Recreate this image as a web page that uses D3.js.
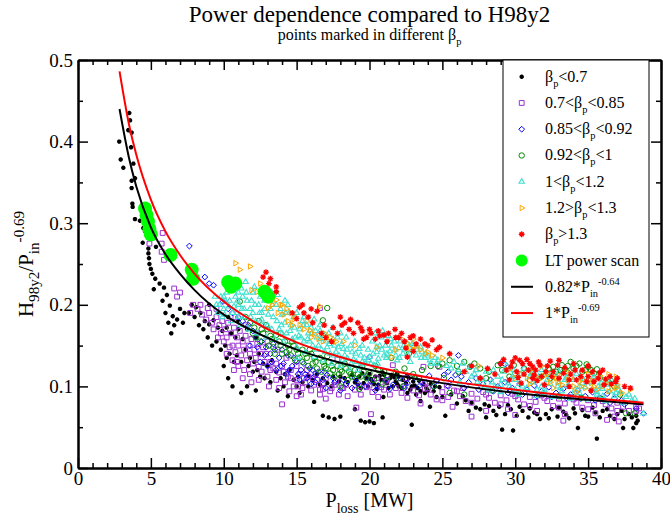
<!DOCTYPE html>
<html><head><meta charset="utf-8">
<script src="https://cdn.jsdelivr.net/npm/d3@7"></script>
<style>body{margin:0;background:#fff}svg{display:block;font-family:"Liberation Serif","Times New Roman",serif}</style>
</head><body><svg id="c" width="670" height="517"></svg>
<script>
// ---------- data ----------
const xMajor=[0,5,10,15,20,25,30,35,40];
const yMajor=[0,0.1,0.2,0.3,0.4,0.5];
const yLabels=["0","0.1","0.2","0.3","0.4","0.5"];
const legendNames=["β_p<0.7","0.7<β_p<0.85","0.85<β_p<0.92","0.92<β_p<1","1<β_p<1.2","1.2>β_p<1.3","β_p>1.3","LT power scan"];

const bp07=[[2.83,.400],[2.93,.378],[3.11,.368],[3.45,.414],[3.52,.435],[3.57,.426],[3.64,.393],[3.68,.411],[3.80,.373],[3.91,.355],[3.68,.352],[3.68,.343],[3.73,.324],[3.75,.320],[3.91,.305],[4.25,.303],[4.48,.294],[4.60,.290],[4.44,.276],[4.83,.269],[4.83,.263],[4.87,.257],[5.35,.271],
[4.9,.250],[5.0,.244],[5.1,.238],[5.3,.232],[5.6,.226],[5.2,.219],[5.9,.221],[6.1,.212],[5.8,.205],[6.3,.199],[6.0,.190],[6.5,.186],[6.8,.182],[6.2,.178],[7.0,.195],[7.3,.190],
[7.8,.200],[8.1,.197],[8.4,.190],[8.0,.185],[8.7,.180],[9.0,.176],[9.3,.181],[9.6,.172],[9.9,.168],[10.2,.172],[10.5,.165],[10.8,.160],[11.0,.170],[11.3,.158],[8.9,.160],[9.5,.155],[10.1,.150],[10.4,.140],[10.9,.138],[11.5,.145],[11.8,.135],[12.1,.130],[12.4,.140],[12.7,.128],[13.0,.125],[13.3,.132],[12.0,.118],[12.5,.112],[13.6,.118],[13.9,.110],[14.2,.115],[14.5,.120],[14.8,.108],[15.1,.112],[15.4,.105],[15.8,.113],[16.1,.108],[16.4,.115],[16.8,.110],[17.1,.104],[17.5,.112],[17.9,.106],[18.3,.110],
[10.0,.125],[10.3,.110],[10.6,.100],[11.2,.092],[11.6,.100],[12.2,.095],[13.7,.095],[14.4,.088],[15.2,.092],[16.2,.081],[16.8,.064],[17.2,.062],[17.6,.060],[18.0,.063],[19.0,.072],[19.4,.058],[19.7,.056],[20.0,.057],[20.3,.055],
[18.8,.114],[19.1,.108],[19.3,.112],[19.6,.104],[19.8,.110],[20.0,.115],[20.2,.106],[20.4,.112],[20.6,.102],[20.8,.108],[21.0,.114],[21.2,.104],[21.4,.110],[21.6,.100],[21.8,.106],[22.0,.112],[22.2,.098],[22.5,.104],[22.8,.096],[23.1,.101],[23.5,.094],[23.9,.098],[19.5,.116],[20.9,.117],[21.9,.116],[22.7,.110],[23.4,.107],[24.2,.103],[24.8,.099],
[20.1,.109],[20.7,.113],[21.1,.106],[21.5,.114],[21.9,.103],[22.3,.108],[22.6,.114],[23.0,.106],[23.3,.098],[23.7,.103],[20.3,.103],[19.0,.105],[21.7,.111],[22.9,.100],[24.0,.095],[24.5,.100],
[19.2,.102],[19.9,.100],[20.5,.097],[21.3,.098],[22.0,.100],[22.6,.092],[23.2,.090],[23.8,.092],[24.4,.094],[19.4,.098],[18.5,.105],[18.0,.112],[17.4,.100],[16.6,.102],[15.8,.100],[15.0,.100],[14.1,.100],[13.2,.105],[12.8,.110],[12.3,.120],[11.7,.125],[11.2,.130],[10.7,.130],[10.2,.135],[9.8,.145],[9.2,.150],[8.6,.170],[8.3,.175],[7.6,.190],[7.2,.178],[6.6,.175],[6.4,.165],[9.0,.200],[9.6,.190],[10.3,.185],[11.0,.180],[11.6,.170],[12.2,.160],
[20.95,.087],[20.9,.062],[22.9,.053],[25.0,.087],[25.2,.064],[24.15,.075],[23.5,.082],[26.0,.079],[26.6,.083],[27.3,.074],[27.9,.078],
[28.5,.070],[28.9,.075],[29.3,.066],[29.7,.072],[30.1,.064],[30.5,.070],[30.9,.062],[31.3,.068],[31.7,.060],[32.1,.066],[32.5,.072],[32.9,.063],[33.3,.069],[33.7,.061],[34.1,.067],[34.6,.071],[35.0,.063],[35.5,.068],[36.0,.070],[36.5,.064],[37.0,.066],[37.5,.060],[38.0,.062],[38.4,.058],
[27.0,.080],[27.6,.072],[28.2,.076],[28.7,.065],[29.5,.077],[30.3,.075],[31.0,.073],[31.5,.066],[32.3,.061],[33.0,.074],[33.5,.065],[34.0,.073],[34.8,.064],[35.3,.074],[35.8,.062],[36.3,.072],[36.8,.060],[37.3,.070],[37.8,.066],[38.3,.064],[26.4,.088],[25.6,.090],[24.6,.087],[26.8,.070],[28.0,.062],
[29.1,.047],[29.85,.046],[34.3,.049],[35.6,.036],[37.4,.049],[38.1,.049],[38.3,.055]];

const bp085=[[4.9,.275],[5.74,.265],[5.74,.275],[5.81,.288],[5.9,.255],[6.6,.220],[6.8,.210],[7.0,.215],
[7.7,.190],[7.9,.200],[8.2,.195],[8.5,.188],[8.8,.182],[9.0,.190],[9.2,.178],[9.5,.185],[9.7,.175],[9.9,.180],[10.1,.170],[10.3,.178],[10.5,.165],[10.7,.172],[10.9,.160],[11.1,.168],[11.3,.155],[11.5,.162],[11.7,.150],[11.9,.158],[12.1,.145],[12.3,.152],[12.5,.140],[12.7,.148],
[9.8,.165],[10.0,.155],[10.4,.148],[10.8,.142],[11.2,.138],[11.6,.132],[12.0,.128],[12.4,.124],[10.6,.132],[11.0,.125],[11.4,.120],[11.8,.115],[12.6,.118],[13.0,.112],[13.2,.130],[13.4,.122],[13.6,.108],[13.8,.117],[14.0,.125],[14.2,.105],[14.4,.112],[14.6,.120],[14.8,.100],[15.0,.108],[15.2,.115],[15.4,.098],[15.6,.105],[15.8,.112],[16.0,.095],[16.2,.102],[16.4,.108],[16.6,.090],[16.8,.097],[17.0,.085],[17.3,.094],[17.6,.102],[17.9,.090],[18.2,.098],[18.5,.088],[14.0,.078],[15.0,.088],[16.6,.196],[18.1,.098],[16.6,.096],[17.8,.133],
[9.3,.170],[9.6,.160],[10.2,.160],[10.6,.150],[11.0,.150],[11.4,.145],[11.8,.140],[12.2,.135],[12.8,.130],[13.2,.120],[13.6,.128],[14.1,.118],[14.6,.110],[15.1,.100],[15.5,.110],[16.1,.110],[16.8,.104],[17.4,.098],[10.2,.140],[10.7,.120],[11.3,.110],[11.9,.105],[12.4,.108],[13.1,.100],[13.8,.098],[14.5,.094],[15.3,.090],[10.9,.130],[12.9,.140],[9.5,.195],[8.9,.196],[8.4,.200],[10.8,.185],[11.5,.175],[12.3,.165],[13.0,.155],[13.7,.145],[14.3,.135],[15.0,.125],[15.7,.120],[16.3,.115],[17.0,.110],[17.7,.106],[18.4,.102],
[19.0,.096],[19.4,.090],[19.8,.099],[20.2,.093],[20.6,.087],[21.0,.096],[21.4,.090],[21.8,.098],[22.2,.092],[22.6,.086],[23.0,.095],[23.4,.089],[23.8,.097],[24.2,.090],[24.6,.084],[25.0,.093],[25.4,.087],[25.8,.095],[26.2,.088],[26.6,.082],[27.0,.091],[27.4,.085],[27.8,.093],[28.2,.086],[28.6,.080],[29.0,.089],[29.4,.083],[29.8,.091],[30.2,.084],[30.6,.078],[31.0,.087],[31.4,.081],[31.8,.089],[32.2,.082],[32.6,.076],[33.0,.085],[33.4,.079],[33.8,.087],[34.2,.080],[34.6,.074],[35.0,.083],[35.4,.077],[35.8,.085],[36.2,.078],[36.6,.073],[37.0,.080],[37.4,.075],[37.8,.070],[38.3,.070],
[19.3,.100],[20.0,.101],[20.8,.099],[22.4,.100],[24.0,.098],[26.0,.094],[28.0,.090],[30.0,.088],[32.0,.086],[34.0,.084],[36.0,.082],[25.0,.083],[27.0,.080],[29.0,.078],[31.0,.076],[33.0,.074],[35.0,.072],[37.0,.070],
[21.2,.108],[22.0,.110],[23.8,.105],[24.6,.107],[25.3,.101],[26.4,.098],[23.5,.079],[25.7,.075],[28.0,.070],[29.5,.072],[30.0,.065],[31.5,.070],[33.4,.066],[35.5,.067],[36.8,.063],[38.5,.073],[27.0,.063],[22.5,.110],[20.5,.110],[19.1,.074],[20.1,.066],[21.1,.106],[21.6,.126],[23.7,.124],[24.8,.124],[33.3,.058],[36.3,.059],[37.1,.057],[38.3,.075]];

const bp092=[[7.64,.272],[8.7,.234],[9.0,.226],[9.3,.224],[9.95,.204],[10.3,.195],[10.6,.190],[11.0,.185],[11.3,.180],[11.7,.175],[12.0,.168],[12.2,.160],[12.6,.155],[11.8,.150],[12.9,.148],[13.2,.140],[13.5,.145],[13.8,.135],[14.1,.128],[14.4,.138],[14.7,.125],[15.0,.130],[15.3,.120],[15.6,.115],[15.9,.122],[16.2,.112],[16.5,.118],[16.8,.108],[17.1,.114],[12.5,.130],[13.0,.125],[13.6,.120],[14.3,.115],[15.2,.108],[16.0,.103],[17.0,.098],[17.6,.105],[18.0,.095],[18.4,.103],[18.8,.098],[19.2,.104],[19.7,.100],[20.1,.106],[20.6,.100],[21.1,.108],[21.6,.102],[22.1,.110],[22.6,.104],[23.1,.111],[23.6,.105],[24.1,.113],[24.6,.107],[25.1,.114],[25.6,.108],[26.1,.138],[26.3,.112],[26.8,.105],[27.3,.110],[27.8,.103],[28.3,.108],[28.8,.100],[29.0,.128],[29.3,.127],[29.3,.105],[29.8,.098],[30.3,.103],[30.8,.096],[31.3,.101],[31.8,.094],[32.3,.099],[32.8,.092],[33.3,.097],[33.8,.090],[34.3,.095],[34.8,.088],[35.3,.093],[35.8,.086],[36.3,.091],[36.8,.085],[37.3,.083],[38.3,.073],[38.8,.067],[20.0,.136],[25.4,.118],[25.9,.114],
[12.3,.148],[12.8,.138],[13.3,.130],[13.9,.125],[14.5,.120],[15.1,.115],[15.7,.110],[16.3,.105],[13.4,.152],[14.0,.145],[14.8,.135],[15.5,.128],[16.1,.120],[16.9,.118],[17.5,.110],[18.2,.108],[19.0,.110],[19.8,.112],[20.4,.095],[21.4,.097],[22.4,.098],[23.4,.100],[24.4,.100],[25.4,.100],[26.5,.098],[27.5,.096],[28.5,.094],[29.5,.092],[30.5,.090],[31.5,.088],[32.5,.087],[33.5,.086],[34.5,.085],[35.5,.083],[36.5,.080],[37.5,.078]];

const bp1=[[11.1,.204],[17.1,.196],[16.8,.181],[11.5,.185],[11.8,.178],[12.1,.172],[12.4,.180],[12.7,.165],[13.0,.170],[13.3,.158],[13.6,.163],[13.9,.150],[14.2,.155],[14.5,.145],[14.8,.150],[15.1,.140],[15.4,.145],[15.7,.135],[16.0,.140],[16.3,.130],[16.6,.135],[16.9,.125],[17.2,.130],[17.5,.120],[17.8,.125],[18.1,.118],[18.4,.122],[18.7,.115],[19.0,.120],[12.2,.160],[13.1,.150],[14.0,.140],[14.9,.132],[15.8,.125],[16.7,.118],[17.6,.112],[18.5,.108],[19.4,.112],[20.0,.116],[20.6,.120],[21.2,.112],[21.8,.118],[22.4,.122],[23.0,.115],[23.6,.120],[24.2,.125],[24.7,.125],[25.0,.128],[25.5,.132],[26.0,.125],[26.5,.130],[26.9,.124],[27.6,.122],[28.2,.118],[28.8,.126],[29.1,.120],[30.0,.116],[30.6,.122],[31.2,.118],[31.8,.112],[32.4,.110],[32.6,.124],[33.1,.120],[33.4,.121],[33.8,.130],[34.2,.125],[34.6,.118],[35.0,.124],[35.4,.116],[35.8,.110],[36.4,.105],[36.8,.100],[37.2,.090],[37.6,.067],[38.2,.067],[26.5,.090],[25.5,.092],[28.4,.095],[30.2,.092],[31.6,.090],[33.0,.088],[34.5,.086],[35.9,.085],[24.4,.100],[22.3,.100],[21.5,.135],[22.7,.140],[20.9,.103],[18.0,.100],[19.3,.097],[26.1,.118],[25.1,.110],
[12.0,.165],[12.6,.170],[13.2,.162],[13.8,.155],[14.4,.150],[15.0,.145],[15.6,.140],[16.2,.135],[16.8,.130],[17.4,.125],[18.0,.120],[18.6,.118],[19.2,.115],[19.8,.110],[13.5,.140],[14.6,.138],[15.4,.130],[16.4,.122],[17.3,.116],[32.8,.118],[33.2,.126],[33.6,.117],[34.0,.122],[34.4,.128],[34.8,.120],[35.2,.120],[28.0,.110],[29.6,.112],[31.0,.108],[23.4,.110],[22.0,.110],[20.3,.108],
[12.5,.155],[13.4,.148],[14.3,.142],[15.2,.135],[16.1,.128],[17.0,.122],[17.9,.115],[18.8,.112],[19.6,.118],[14.7,.155],[15.9,.145],[17.1,.137],[18.3,.128],[19.5,.124],[20.4,.125],[21.0,.118],[13.9,.165],[12.9,.175],[33.6,.125],[34.9,.127],[32.3,.122],[35.6,.121],[27.2,.128],[29.9,.126]];

const bp12=[[9.5,.200],[9.8,.210],[10.0,.195],[10.2,.215],[10.4,.205],[10.6,.190],[10.8,.210],[11.0,.200],[11.2,.220],[11.4,.185],[11.6,.205],[11.8,.195],[12.0,.215],[12.2,.180],[12.4,.200],[12.6,.190],[12.8,.205],[13.0,.175],[13.2,.195],[13.4,.185],[13.6,.200],[13.8,.170],[14.0,.188],[14.2,.178],[9.9,.185],[10.5,.180],[11.1,.175],[11.7,.170],[12.3,.165],[12.9,.160],[13.5,.158],[10.3,.225],[11.5,.228],[12.1,.222],[13.7,.212],[14.4,.200],
[9.6,.190],[10.1,.205],[10.7,.198],[11.3,.210],[11.9,.205],[12.5,.210],[13.1,.205],[13.3,.170],[12.7,.175],[12.0,.190],[11.4,.195],[10.9,.190],[13.9,.195],[14.5,.190],[14.0,.165],[14.7,.158],[15.3,.160],[15.9,.155],[16.5,.150],[17.1,.148],[17.7,.142],[18.3,.138],[18.9,.133],[19.5,.130],[20.1,.128],[15.7,.175],[16.3,.168],[16.9,.162],[17.5,.158],[18.1,.152],[18.7,.150],[19.3,.146],[19.9,.145],[20.5,.142],[21.2,.140],[21.8,.138],[22.4,.145],[23.0,.150],[23.6,.142],[24.0,.138],[24.5,.135],[19.0,.155],[18.4,.160],[17.5,.172],[16.2,.182],[15.0,.190],[14.2,.205],[13.3,.215],[20.9,.168],[22.1,.155],[21.5,.150],[12.8,.195],[11.0,.215],[10.0,.210],
[9.4,.210],[9.7,.200],[10.05,.188],[10.35,.198],[10.65,.218],[10.95,.205],[11.25,.195],[11.55,.215],[11.85,.185],[12.15,.200],[12.45,.190],[12.75,.215],[13.05,.188],[13.35,.200],[13.65,.180],[13.95,.175],[14.25,.190],[14.55,.168],[14.85,.172],[15.15,.162],[15.45,.175],[15.75,.158],[16.05,.165],[16.35,.145],[16.65,.158],[16.95,.142],[17.25,.152],[17.55,.138],[17.85,.148],[18.15,.132],[18.45,.145],[18.75,.128],[19.05,.140],[19.35,.125],[19.65,.135],[19.95,.132],[20.25,.140],[20.55,.128],[20.85,.145],[21.15,.135],[21.45,.158],[21.75,.145],[22.05,.135],[22.35,.150],[22.65,.138],[22.95,.152],[23.25,.145],[23.55,.135],[23.85,.140],[24.15,.132],[12.6,.182],[11.0,.185],[13.0,.212],[15.5,.185],[16.6,.175],[18.0,.165],[19.5,.150],[20.7,.150],
[14.3,.165],[14.6,.175],[14.9,.160],[15.2,.170],[15.5,.155],[15.8,.165],[16.1,.150],[16.4,.160],[16.7,.145],[17.0,.155],[17.3,.140],[17.6,.150],[17.9,.138],[18.2,.146],[18.5,.134],[18.8,.142],[19.1,.130],[19.4,.138],[19.7,.128],[20.0,.136],[20.3,.126],[20.6,.134],[15.0,.148],[15.6,.142],[16.2,.136],[16.8,.132],[17.4,.128],[18.0,.125],[18.6,.122],[19.2,.120],[14.8,.185],[15.4,.180],[16.0,.172],[16.6,.168],[17.2,.165],[17.8,.160],[14.1,.155],[15.1,.135],
[20.2,.155],[20.5,.148],[20.8,.160],[21.1,.150],[21.4,.143],[21.7,.155],[22.0,.147],[22.3,.140],[22.6,.152],[22.9,.144],[23.2,.138],[23.5,.148],[21.0,.138],[21.9,.132],[22.8,.130],[23.8,.135],[24.2,.128],[24.7,.132],[20.4,.165],[21.3,.162],[25.3,.125],[25.8,.130],[26.4,.128],[26.9,.124],[26.2,.105],[27.0,.112],
[27.2,.115],[27.6,.110],[28.0,.118],[28.4,.105],[28.8,.112],[29.2,.118],[29.6,.100],[30.0,.108],[30.4,.115],[30.8,.098],[31.2,.105],[31.6,.112],[32.0,.096],[32.4,.103],[32.8,.110],[33.2,.094],[33.6,.101],[34.0,.108],[34.4,.092],[34.8,.099],[35.2,.105],[35.6,.090],[36.0,.097],[36.4,.102],[36.8,.088],[37.2,.093],[37.6,.087],[38.0,.083],[38.8,.067],[28.2,.095],[29.0,.093],[30.2,.090],[31.4,.088],[32.6,.087],[33.8,.085],[35.0,.084],[36.2,.082],[37.4,.080],[29.4,.125],[30.6,.122],[31.8,.120],[33.0,.118],[34.2,.115],[35.4,.112],[36.6,.108],
[26.6,.118],[27.4,.105],[27.9,.100],[28.6,.100],[29.1,.108],[29.8,.112],[30.5,.100],[31.0,.112],[31.5,.096],[32.2,.108],[32.9,.100],[33.4,.108],[34.1,.096],[34.6,.104],[35.3,.097],[35.9,.104],[36.5,.094],[37.0,.100],[37.8,.090],[30.0,.096],[32.0,.092],[34.0,.090],[36.0,.088],[38.2,.085],[29.5,.104],[33.0,.105],[35.7,.100],
[24.6,.128],[25.6,.122],[26.1,.120],[27.3,.120],[28.5,.120],[29.9,.120],[31.1,.116],[32.3,.115],[33.5,.110],[34.7,.108],[35.9,.100],[37.1,.096],[27.8,.108],[29.0,.102],[30.3,.103],[31.8,.100],[33.1,.098],[34.4,.100],[35.6,.093],[36.9,.092]];

const bp13=[[10.8,.251],[11.1,.243],[11.8,.247],[12.5,.226],[11.9,.218],[12.3,.216],[13.05,.196],[13.6,.206],[13.9,.200],[14.3,.195],[14.6,.190],[14.9,.185],[14.4,.180],[14.8,.182],[15.9,.169],[16.2,.164],[16.5,.158],[16.8,.155],[16.6,.198],[17.7,.155],[20.0,.167],[15.7,.180],[22.3,.157],[22.6,.153],[23.2,.149],[23.5,.145],[24.0,.142],[24.3,.138],[21.5,.136],[23.0,.158],
[13.3,.200],[13.7,.190],[14.1,.188],[14.7,.175],[15.2,.175],[15.5,.170],[16.0,.160],[16.9,.165],[17.3,.160],[18.2,.155],[19.0,.150],[20.5,.148],[21.8,.145],[22.8,.147],[23.8,.140],[12.8,.210],[14.0,.200],[25.0,.135],[27.5,.125],
[30.4,.115],[30.8,.110],[31.2,.117],[31.6,.108],[32.0,.113],[32.4,.105],[32.8,.110],[33.2,.102],[33.6,.108],[34.0,.100],[34.4,.106],[34.8,.098],[35.2,.104],[35.6,.096],[36.0,.100],[36.4,.094],[36.9,.098],[37.3,.092],[37.9,.096],[29.5,.120],[31.8,.125],[33.5,.118],[35.8,.113],[36.4,.115],[36.9,.112],[35.0,.115],[31.0,.103],[32.6,.098],[34.2,.093],[35.3,.107],
[31.4,.112],[32.2,.116],[33.0,.113],[33.8,.110],[34.6,.108],[35.4,.100],[36.2,.105],[37.0,.102],[30.0,.110],[32.9,.105],[34.5,.100],[36.6,.097]];

const bpHi=[[12.7,.234],[13.1,.226],[13.6,.222],[13.6,.216],[15.2,.197],[15.5,.190],[15.8,.185],[16.1,.178],[16.4,.192],[15.0,.183],[16.7,.165],[17.0,.160],[18.0,.185],[18.3,.178],[18.6,.170],[18.9,.165],[19.2,.178],[19.5,.168],[19.8,.160],[20.1,.165],[20.4,.158],[20.7,.162],[17.8,.165],
[21.0,.163],[21.75,.170],[22.0,.160],[22.4,.155],[22.8,.160],[23.2,.152],[23.5,.158],[24.0,.150],[24.3,.157],[24.6,.145],[21.2,.155],[23.0,.143],[22.6,.136],
[14.7,.190],[15.4,.200],[16.0,.195],[16.9,.175],[17.5,.172],[18.1,.175],[18.7,.182],[19.4,.172],[20.0,.170],[20.6,.168],[21.3,.165],[21.8,.160],[22.2,.165],[23.0,.162],[23.8,.152],[24.8,.148],[25.5,.140],[22.5,.147],[19.6,.158],[17.4,.155],[13.2,.232],[12.9,.240],
[29.0,.128],[29.4,.120],[29.8,.130],[30.3,.132],[30.6,.115],[31.2,.124],[31.0,.128],[31.4,.120],[31.8,.112],[32.2,.125],[32.6,.118],[33.0,.110],[33.4,.123],[33.8,.115],[34.2,.108],[34.6,.120],[35.0,.112],[35.4,.106],[35.8,.117],[36.2,.109],[36.6,.103],[37.0,.110],[37.5,.100],[37.9,.098],[30.0,.135],[30.8,.133],[31.6,.130],[32.4,.131],[29.6,.108],[30.4,.104],[31.2,.110],[32.0,.102],[27.0,.125],[28.1,.122],[26.5,.118],[33.7,.100],[35.2,.095],
[29.2,.133],[29.7,.124],[30.1,.118],[30.5,.128],[30.9,.120],[31.3,.114],[31.7,.126],[32.1,.118],[32.5,.112],[32.9,.126],[33.3,.116],[33.7,.108],[34.1,.120],[34.5,.112],[34.9,.106],[35.3,.118],[35.7,.110],[36.1,.102],[36.5,.112],[36.9,.106],[33.0,.132],[34.0,.128],[35.0,.125],[36.0,.120],[30.2,.111],[31.5,.107],[28.6,.115],[27.6,.110]];

const ltScan=[[4.6,.318],[4.7,.310],[4.8,.302],[4.9,.293],[5.0,.286],[6.35,.261],[7.8,.243],[7.9,.232],[10.3,.228],[10.5,.222],[10.8,.226],[12.8,.216],[13.05,.210]];

const fitBlack=[[2.85,.440],[3.5,.380],[4,.345],[5,.295],[6,.262],[7,.238],[8,.218],[10,.188],[12,.168],[15,.145],[18,.129],[20,.1205],[25,.104],[30,.092],[35,.0835],[38.8,.078]];
const fitRed=[[2.85,.486],[3.5,.421],[4,.384],[5,.329],[6,.290],[7,.261],[8,.238],[10,.204],[12,.180],[15,.154],[18,.136],[20,.126],[25,.108],[30,.0959],[35,.0861],[38.8,.0800]];

// ---------- drawing ----------
const svg=d3.select("#c");
const M={l:78,r:661,t:60,b:468};
const x=d3.scaleLinear([0,40],[M.l,M.r]);
const y=d3.scaleLinear([0,0.5],[M.b,M.t]);

const shapes={
  star:s=>{const a=s*0.7;return `M${-s},0H${s}M0,${-s}V${s}M${-a},${-a}L${a},${a}M${-a},${a}L${a},${-a}`;},
  square:s=>`M${-s},${-s}h${2*s}v${2*s}h${-2*s}Z`,
  diamond:s=>`M0,${-s}L${s},0L0,${s}L${-s},0Z`,
  circle:s=>`M${s},0A${s},${s} 0 1,1 ${-s},0A${s},${s} 0 1,1 ${s},0Z`,
  triUp:s=>`M0,${-s}L${s*0.87},${s*0.5}L${-s*0.87},${s*0.5}Z`,
  triRight:s=>`M${s},0L${-s*0.5},${s*0.87}L${-s*0.5},${-s*0.87}Z`
};
const series=[
  {data:bp07,color:"#000",shape:"star",size:2.2,sw:1.5,fill:"none"},
  {data:bp085,color:"#9b30d0",shape:"square",size:2.4,sw:1,fill:"none"},
  {data:bp092,color:"#0000ff",shape:"diamond",size:2.9,sw:1,fill:"none"},
  {data:bp1,color:"#008b00",shape:"circle",size:2.7,sw:1,fill:"none"},
  {data:bp12,color:"#40e0d0",shape:"triUp",size:3.1,sw:1.1,fill:"none"},
  {data:bp13,color:"#ffa500",shape:"triRight",size:3.1,sw:1,fill:"none"},
  {data:bpHi,color:"#ff0000",shape:"star",size:2.9,sw:1.3,fill:"none"},
  {data:ltScan,color:"#00ff00",shape:"circle",size:7,sw:0,fill:"#00ff00"}
];

const plot=svg.append("g");
series.forEach(s=>{
  plot.append("g").selectAll("path").data(s.data).join("path")
    .attr("transform",d=>`translate(${x(d[0])},${y(d[1])})`)
    .attr("d",shapes[s.shape](s.size))
    .attr("fill",s.fill).attr("stroke",s.sw?s.color:"none").attr("stroke-width",s.sw);
});
const line=d3.line().x(d=>x(d[0])).y(d=>y(d[1])).curve(d3.curveMonotoneX);
plot.append("path").attr("d",line(fitBlack)).attr("fill","none").attr("stroke","#000").attr("stroke-width",2);
plot.append("path").attr("d",line(fitRed)).attr("fill","none").attr("stroke","#ff0000").attr("stroke-width",2);

// axes
const xMinor=d3.range(0,41,1).filter(v=>v%5!==0);
const yMinor=[0.05,0.15,0.25,0.35,0.45];
function styleAxis(g){g.select(".domain").attr("stroke-width",2);g.selectAll(".tick line").attr("stroke-width",1.5);g.selectAll("text").attr("font-family","Liberation Serif").attr("font-size",19).attr("fill","#000");}
svg.append("g").attr("transform",`translate(0,${M.b})`).call(d3.axisBottom(x).tickValues(xMajor).tickSize(-10).tickSizeOuter(0).tickPadding(3)).call(styleAxis);
svg.append("g").attr("transform",`translate(0,${M.b})`).call(d3.axisBottom(x).tickValues(xMinor).tickSize(-5).tickSizeOuter(0).tickFormat("")).call(styleAxis);
svg.append("g").attr("transform",`translate(0,${M.t})`).call(d3.axisTop(x).tickValues(xMajor).tickSize(-10).tickSizeOuter(0).tickFormat("")).call(styleAxis);
svg.append("g").attr("transform",`translate(0,${M.t})`).call(d3.axisTop(x).tickValues(xMinor).tickSize(-5).tickSizeOuter(0).tickFormat("")).call(styleAxis);
svg.append("g").attr("transform",`translate(${M.l},0)`).call(d3.axisLeft(y).tickValues(yMajor).tickSize(-10).tickSizeOuter(0).tickPadding(5).tickFormat((d,i)=>yLabels[i])).call(styleAxis);
svg.append("g").attr("transform",`translate(${M.l},0)`).call(d3.axisLeft(y).tickValues(yMinor).tickSize(-5).tickSizeOuter(0).tickFormat("")).call(styleAxis);
svg.append("g").attr("transform",`translate(${M.r},0)`).call(d3.axisRight(y).tickValues(yMajor).tickSize(-10).tickSizeOuter(0).tickFormat("")).call(styleAxis);
svg.append("g").attr("transform",`translate(${M.r},0)`).call(d3.axisRight(y).tickValues(yMinor).tickSize(-5).tickSizeOuter(0).tickFormat("")).call(styleAxis);

// rich text helper: parts [text, mode] mode: 0 normal, 1 sub, 2 sup
function rich(sel,parts,fs,k){
  k=k||0.65;let cur=0;
  parts.forEach(([t,m])=>{
    const target=m===1?fs*0.3:m===2?-fs*0.45:0;
    sel.append("tspan").attr("dy",target-cur).attr("font-size",m?fs*k:fs).text(t);
    cur=target;
  });
}
const cx=(M.l+M.r)/2;
svg.append("text").attr("x",cx).attr("y",22).attr("text-anchor","middle").attr("font-size",23).text("Power dependence compared to H98y2");
const sub=svg.append("text").attr("x",cx).attr("y",40).attr("text-anchor","middle").attr("font-size",16);
rich(sub,[["points marked in different β",0],["p",1]],16);

const xl=svg.append("text").attr("x",cx).attr("y",507).attr("text-anchor","middle").attr("font-size",20);
rich(xl,[["P",0],["loss",1],[" [MW]",0]],20,0.7);
const yl=svg.append("text").attr("transform",`translate(33,${(M.t+M.b)/2}) rotate(-90)`).attr("text-anchor","middle").attr("font-size",21);
rich(yl,[["H",0],["98y2",1],["/P",0],["in",1],["-0.69",2]],21,0.72);

// legend
const lg=svg.append("g");
lg.append("rect").attr("x",503).attr("y",M.t).attr("width",146).attr("height",277).attr("fill","#fff").attr("stroke","#000").attr("stroke-width",1);
const rowY=i=>76.7+i*26.26;
const legendParts=legendNames.map(n=>{
  if(n.includes("β_p")){const [a,b]=n.split("β_p");return [[a+"β",0],["p",1],[b,0]];}
  return [[n,0]];
});
legendParts.push([["0.82*P",0],["in",1],["-0.64",2]]);
legendParts.push([["1*P",0],["in",1],["-0.69",2]]);
series.forEach((s,i)=>{
  const sz=s.shape==="circle"&&s.fill!=="none"?6:s.size;
  lg.append("path").attr("transform",`translate(521.7,${rowY(i)})`).attr("d",shapes[s.shape](sz))
    .attr("fill",s.fill).attr("stroke",s.sw?s.color:"none").attr("stroke-width",s.sw);
});
[["#000",8],["#ff0000",9]].forEach(([c,i])=>{
  lg.append("line").attr("x1",511).attr("x2",533).attr("y1",rowY(i)).attr("y2",rowY(i)).attr("stroke",c).attr("stroke-width",2);
});
legendParts.forEach((p,i)=>{
  const t=lg.append("text").attr("x",545).attr("y",rowY(i)+5).attr("font-size",16);
  rich(t,p,16);
});
</script></body></html>
